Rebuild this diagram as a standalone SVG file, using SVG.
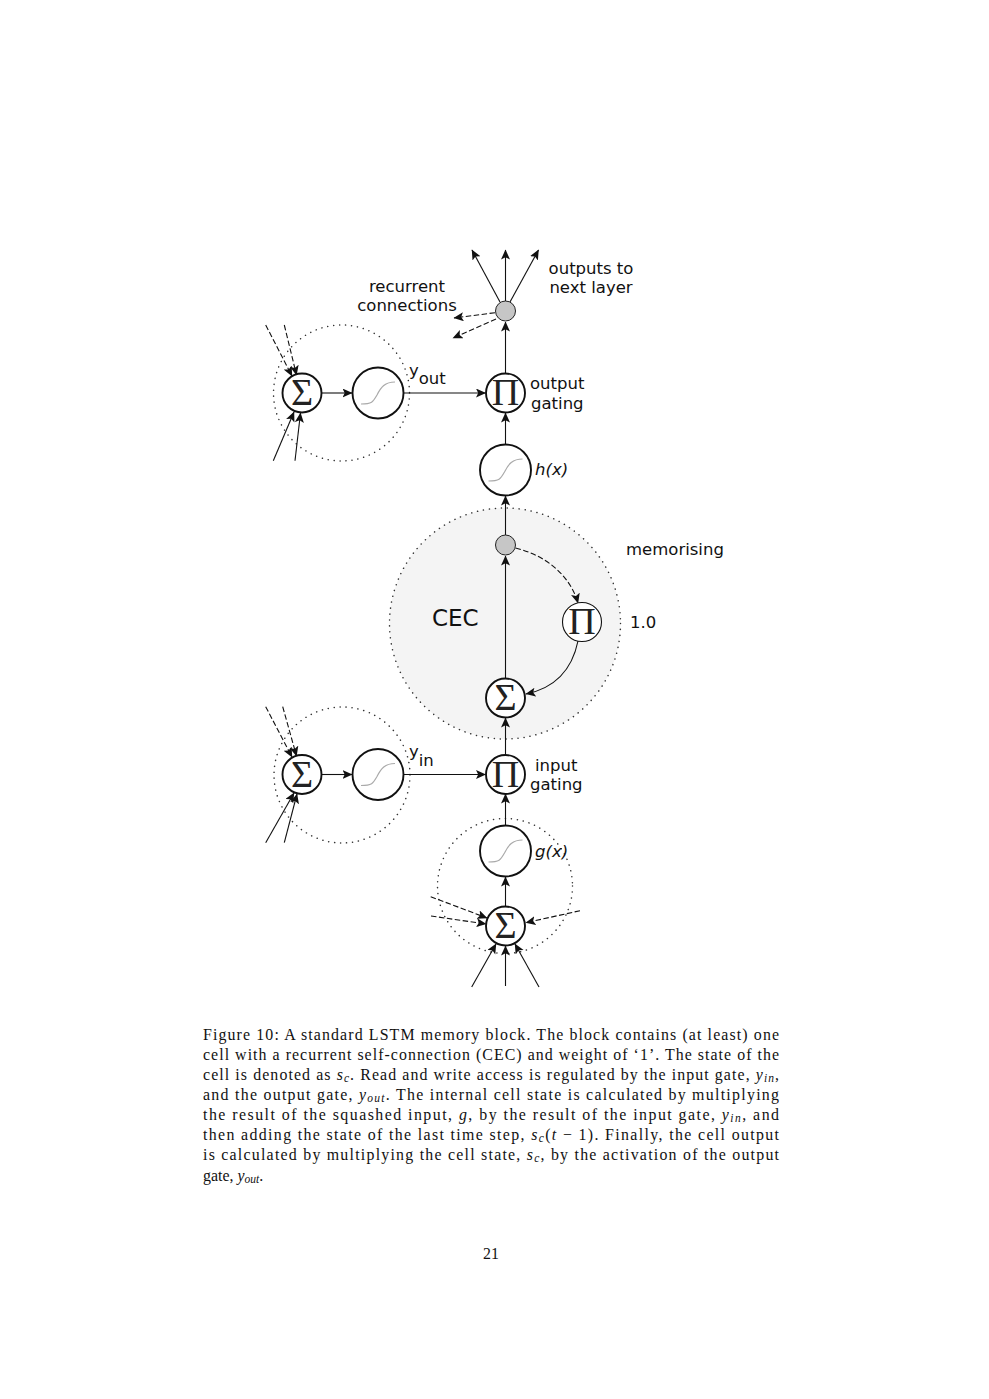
<svg xmlns="http://www.w3.org/2000/svg" width="989" height="1399" viewBox="0 0 989 1399">
<style>
.lab{font-family:"DejaVu Sans",sans-serif;font-size:16.5px;fill:#111}
.it{font-style:italic}
.op{font-family:"Liberation Serif",serif;font-size:38px;fill:#222;text-anchor:middle}
.cap{font-family:"Liberation Serif",serif;font-size:15.9px;fill:#111}
.cap .m{font-style:italic}
.cap .s{font-style:italic;font-size:11.5px}
.conn{fill:none;stroke:#111;stroke-width:1.1;marker-end:url(#a)}
.dash{stroke-dasharray:5.5 2.5}
.dot{fill:none;stroke:#333;stroke-width:1.5;stroke-linecap:round;stroke-dasharray:.1 5.9}
.n{fill:#fff;stroke:#111;stroke-width:1.9}
.thin{stroke-width:1.1}
.g{fill:#c6c6c6;stroke:#222;stroke-width:1}
.curve{fill:none;stroke:#aaa;stroke-width:1.2}
</style>
<defs>
<marker id="a" markerUnits="userSpaceOnUse" markerWidth="11" markerHeight="10" refX="9.5" refY="4.5" orient="auto">
<path d="M0 0L10 4.5L0 9L2.2 4.5Z" fill="#111"/>
</marker>
<path id="sig" d="M-17 11C-6 11-5 9-1 2C3-6 7-11 17-11"/>
</defs>
<rect width="989" height="1399" fill="#fff"/>
<g id="regions">
<circle cx="505" cy="623.5" r="115.5" fill="#f4f4f4" stroke="none"/>
<circle class="dot" cx="505" cy="623.5" r="115.5"/>
<circle class="dot" cx="341.5" cy="393" r="68"/>
<circle class="dot" cx="342" cy="775" r="68"/>
<circle class="dot" cx="505" cy="886" r="67.5"/>
</g>
<g id="connectors">
<path class="conn" d="M500 302L472 250"/>
<path class="conn" d="M505.500 301V250"/>
<path class="conn" d="M510 302L538.500 250"/>
<path class="conn dash" d="M495 312.700L454 318"/>
<path class="conn dash" d="M496 319L453 338"/>
<path class="conn" d="M505.500 373V322"/>
<path class="conn" d="M505.500 444V413"/>
<path class="conn" d="M505.500 535V496"/>
<path class="conn" d="M505.500 678V556"/>
<path class="conn" d="M505.500 754V718"/>
<path class="conn" d="M505.500 825V794"/>
<path class="conn" d="M505.500 906V877"/>
<path class="conn" d="M471.700 987L496 944"/>
<path class="conn" d="M505.500 986V946"/>
<path class="conn" d="M539 987L515 944"/>
<path class="conn dash" d="M430.700 896.700L487 918"/>
<path class="conn dash" d="M431 916L486 924"/>
<path class="conn dash" d="M580 910.700L526 922.700"/>
<path class="conn dash" d="M265.700 325L292 376"/>
<path class="conn dash" d="M284.300 325L296.500 375"/>
<path class="conn" d="M273.300 460.700L294 412"/>
<path class="conn" d="M295 460.700L300.500 413"/>
<path class="conn dash" d="M265.700 706.700L292 757"/>
<path class="conn dash" d="M282.700 706.700L296.500 756"/>
<path class="conn" d="M265.700 842.700L294 793"/>
<path class="conn" d="M284.300 842.700L297 794"/>
<path class="conn" d="M322 393H352"/>
<path class="conn" d="M404 393H485.500"/>
<path class="conn" d="M322 774.500H352"/>
<path class="conn" d="M404 774.500H485.500"/>
<path class="conn dash" d="M515.500 548C545 555 570 575 578 603"/>
<path class="conn" d="M578 641C572 670 555 688 526 694"/>
</g>
<g id="node-output-fanout"><circle class="g" cx="505.500" cy="311" r="10"/></g>
<g id="node-memory-fanout"><circle class="g" cx="505.500" cy="545" r="10"/></g>
<g id="node-sum-out"><circle class="n" cx="302" cy="393" r="19.500"/><text class="op" x="302" y="405">Σ</text></g>
<g id="node-sig-out"><circle class="n" cx="378" cy="393" r="25.500"/><use href="#sig" class="curve" transform="translate(378 393)"/></g>
<g id="node-pi-out"><circle class="n" cx="505.500" cy="393" r="19.500"/><text class="op" x="505.500" y="405">Π</text></g>
<g id="node-h"><circle class="n" cx="505.500" cy="470" r="25.500"/><use href="#sig" class="curve" transform="translate(505.500 470)"/></g>
<g id="node-pi-cec"><circle class="n thin" cx="582" cy="622" r="19.500"/><text class="op" x="582" y="634">Π</text></g>
<g id="node-sum-cec"><circle class="n" cx="505.500" cy="698" r="19.500"/><text class="op" x="505.500" y="710">Σ</text></g>
<g id="node-sum-in"><circle class="n" cx="302" cy="774.500" r="19.500"/><text class="op" x="302" y="786.500">Σ</text></g>
<g id="node-sig-in"><circle class="n" cx="378" cy="774.500" r="25.500"/><use href="#sig" class="curve" transform="translate(378 774.500)"/></g>
<g id="node-pi-in"><circle class="n" cx="505.500" cy="774.500" r="19.500"/><text class="op" x="505.500" y="786.500">Π</text></g>
<g id="node-g"><circle class="n" cx="505.500" cy="851" r="25.500"/><use href="#sig" class="curve" transform="translate(505.500 851)"/></g>
<g id="node-sum-input"><circle class="n" cx="505.500" cy="926" r="19.500"/><text class="op" x="505.500" y="938">Σ</text></g>
<g id="labels">
<text class="lab" x="591" y="274" text-anchor="middle">outputs to</text>
<text class="lab" x="591" y="293" text-anchor="middle">next layer</text>
<text class="lab" x="407" y="292" text-anchor="middle">recurrent</text>
<text class="lab" x="407" y="311" text-anchor="middle">connections</text>
<text class="lab" x="409" y="376">y<tspan dy="8">out</tspan></text>
<text class="lab" x="530" y="389">output</text>
<text class="lab" x="531" y="409">gating</text>
<text class="lab it" x="535" y="475">h(x)</text>
<text class="lab" x="626" y="555">memorising</text>
<text class="lab" x="630" y="628">1.0</text>
<text class="lab" x="432" y="626" style="font-size:23px">CEC</text>
<text class="lab" x="409" y="757">y<tspan dy="9">in</tspan></text>
<text class="lab" x="535" y="771">input</text>
<text class="lab" x="530" y="790">gating</text>
<text class="lab it" x="535" y="857">g(x)</text>
</g>
<g id="caption">
<text class="cap" x="203" y="1040" textLength="576">Figure 10: A standard LSTM memory block. The block contains (at least) one</text>
<text class="cap" x="203" y="1060" textLength="576">cell with a recurrent self-connection (CEC) and weight of ‘1’. The state of the</text>
<text class="cap" x="203" y="1080" textLength="576">cell is denoted as <tspan class="m">s</tspan><tspan class="s" dy="2">c</tspan><tspan dy="-2">. Read and write access is regulated by the input gate, </tspan><tspan class="m">y</tspan><tspan class="s" dy="2">in</tspan><tspan dy="-2">,</tspan></text>
<text class="cap" x="203" y="1100" textLength="576">and the output gate, <tspan class="m">y</tspan><tspan class="s" dy="2">out</tspan><tspan dy="-2">. The internal cell state is calculated by multiplying</tspan></text>
<text class="cap" x="203" y="1120" textLength="576">the result of the squashed input, <tspan class="m">g</tspan>, by the result of the input gate, <tspan class="m">y</tspan><tspan class="s" dy="2">in</tspan><tspan dy="-2">, and</tspan></text>
<text class="cap" x="203" y="1140" textLength="576">then adding the state of the last time step, <tspan class="m">s</tspan><tspan class="s" dy="2">c</tspan><tspan dy="-2">(</tspan><tspan class="m">t</tspan> − 1). Finally, the cell output</text>
<text class="cap" x="203" y="1160" textLength="576">is calculated by multiplying the cell state, <tspan class="m">s</tspan><tspan class="s" dy="2">c</tspan><tspan dy="-2">, by the activation of the output</tspan></text>
<text class="cap" x="203" y="1181">gate, <tspan class="m">y</tspan><tspan class="s" dy="2">out</tspan><tspan dy="-2">.</tspan></text>
<text class="cap" x="491" y="1259" text-anchor="middle">21</text>
</g>
</svg>
